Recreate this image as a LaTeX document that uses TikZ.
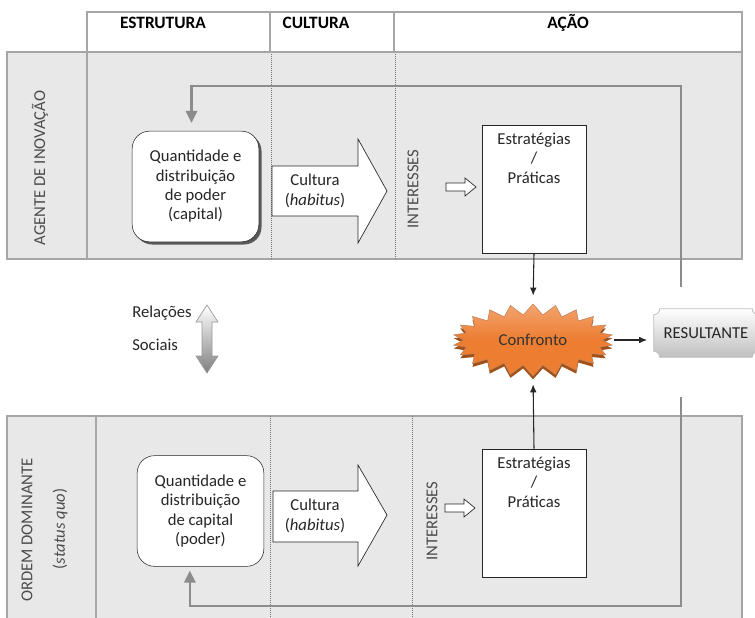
\documentclass[tikz,border=0pt]{standalone}
\usepackage{fontspec}
\setmainfont{Carlito}
\usetikzlibrary{positioning,calc,shapes.symbols,shadows,arrows.meta}
\tikzset{>=latex}
\colorlet{lanefill}{black!9}
\colorlet{laneline}{black!35}
\colorlet{fbcol}{black!45}
\definecolor{confcol}{RGB}{237,125,49}
\definecolor{confdark}{RGB}{160,80,25}
\pgfdeclarelayer{bg}
\pgfsetlayers{bg,main}
\tikzset{lane/.style={draw=laneline,fill=lanefill,line width=1.2pt},
  laneedge/.style={draw=laneline,line width=1.2pt},
  lanesep/.style={draw=black!55,densely dotted,line width=0.5pt},
  label/.style={inner sep=0pt,align=center,text=black!85},
  sidelabel/.style={inner sep=0pt,rotate=90,text=black!70,font=\fontsize{12.5}{15}\selectfont},
  headlabel/.style={inner sep=0pt,font=\fontsize{13}{15}\selectfont\bfseries},
  capbox/.style={draw=black!85,fill=white,rounded corners=13pt,
    minimum width=95pt,minimum height=83pt,label},
  practbox/.style={draw=black!85,fill=white,minimum width=78pt,minimum height=96pt},
  bigarrow/.style={draw=black!85,fill=white,line width=0.5pt},
  smallarrow/.style={draw=black!85,fill=white,line width=0.5pt},
  fb/.style={draw=fbcol,line width=1.8pt,-{Triangle[length=9pt,width=8.5pt]}},
  link/.style={draw=black!85,line width=0.8pt,-{Latex[length=6pt,width=5pt]}}}

\begin{document}
\begin{tikzpicture}[x=0.75pt,y=-0.75pt,font=\fontsize{12.5}{14.5}\selectfont]
\useasboundingbox (0,0) rectangle (755,617);

% lanes
\draw[lane] (7,52) rectangle (742,259);
\draw[lane] (7,416) rectangle (742,630);
\draw[laneedge] (87,52) -- (87,259);
\draw[laneedge] (96,416) -- (96,630);
\draw[lanesep] (271,52) -- (271,259);
\draw[lanesep] (395,52) -- (395,259);
\draw[lanesep] (270,416) -- (270,630);
\draw[lanesep] (412,416) -- (412,630);

% header
\draw[laneedge,fill=white] (87,12) rectangle (742,52);
\draw[laneedge] (270,12) -- (270,52);
\draw[laneedge] (394,12) -- (394,52);
\node[headlabel] (hestr) at (163,23) {ESTRUTURA};
\node[headlabel] (hcult) at (316,23) {CULTURA};
\node[headlabel] (hacao) at (568,23) {AÇÃO};

\node[sidelabel] (agente) at (40,168) {AGENTE DE INOVAÇÃO};
\node[sidelabel] (ordem) at (27,530) {ORDEM DOMINANTE};
\node[sidelabel] (statusquo) at (60,529) {(\textit{status quo})};

% agente
\node[capbox,drop shadow={shadow xshift=2pt,shadow yshift=-2pt,fill=black!65,opacity=1}]
  (qa) at (195.5,186.5) {Quantidade e\\distribuição\\de poder\\(capital)};
\draw[bigarrow] (272,166) -- (358,166) -- (358,139) -- (387,191) -- (358,243)
  -- (358,216) -- (272,216) -- cycle;
\node[label] (cua) at (315,191) {Cultura\\(\textit{habitus})};
\node[sidelabel] (inta) at (413,189) {INTERESSES};
\draw[smallarrow] (446,183) -- (465,183) -- (465,178) -- (476,187) -- (465,196)
  -- (465,191) -- (446,191) -- cycle;
\node[practbox] (sa) at (534,189) {};
\node[label,below=6pt of sa.north] (sat) {Estratégias\\/\\Práticas};

% ordem
\node[capbox] (qb) at (200.5,511) {Quantidade e\\distribuição\\de capital\\(poder)};
\draw[bigarrow] (273,491) -- (358,491) -- (358,465) -- (387,515) -- (358,566)
  -- (358,542) -- (273,542) -- cycle;
\node[label] (cub) at (315,516) {Cultura\\(\textit{habitus})};
\node[sidelabel] (intb) at (432,521) {INTERESSES};
\draw[smallarrow] (445,504) -- (464,504) -- (464,499) -- (475,508) -- (464,517)
  -- (464,512) -- (445,512) -- cycle;
\node[practbox] (sb) at (534,513) {};
\node[label,below=6pt of sb.north] (sbt) {Estratégias\\/\\Práticas};

% relacoes
\node[label,anchor=west] (rel) at (132,313) {Relações};
\node[label,anchor=west] (soc) at (132,345) {Sociais};
\shade[top color=white,bottom color=black!50,draw=black!40,line width=0.5pt]
  (207,305) -- (218,322) -- (212,322) -- (212,356) -- (218,356) -- (207,373)
  -- (196,356) -- (202,356) -- (202,322) -- (196,322) -- cycle;

% confronto
\node[starburst,random starburst=0,starburst points=22,starburst point height=8pt,
  minimum width=120pt,minimum height=54pt,draw=confdark!70,line width=0.4pt,
  top color=confcol!70!white,bottom color=confcol,middle color=confcol,
  drop shadow={shadow xshift=0pt,shadow yshift=-2.5pt,fill=confdark,opacity=1},
  inner sep=0pt,text=black!80] (conf) at (533,340) {Confronto};

\node[label,minimum width=78pt,minimum height=36pt,text=black!85] (res) at (706,333) {RESULTANTE};
\begin{pgfonlayer}{bg}
\shade[top color=white,bottom color=black!25,draw=black!25,line width=0.6pt]
  ($(res.north west)+(4.5pt,0pt)$) -- ($(res.north east)+(-4.5pt,0pt)$)
  arc[start angle=180,end angle=270,radius=4.5pt]
  -- ($(res.south east)+(0pt,4.5pt)$)
  arc[start angle=90,end angle=180,radius=4.5pt]
  -- ($(res.south west)+(4.5pt,0pt)$)
  arc[start angle=0,end angle=90,radius=4.5pt]
  -- ($(res.north west)+(0pt,-4.5pt)$)
  arc[start angle=270,end angle=360,radius=4.5pt] -- cycle;
\end{pgfonlayer}

% links
\draw[link,shorten >=6pt] (sa.south) -- (conf.north);
\draw[link,shorten >=6pt] (sb.north) -- (conf.south);
\draw[link,shorten <=8pt,shorten >=5pt] (conf.east) -- (conf.east -| res.west);

% feedback
\coordinate (fba) at (681,287);
\coordinate (fbb) at (681,397);
\draw[fb,shorten >=6pt] (fba) -- (681,86) -| ([xshift=-3pt]qa.north);
\draw[fb,shorten >=3pt] (fbb) -- (681,606) -| ([xshift=-8pt]qb.south);
\end{tikzpicture}
\end{document}
